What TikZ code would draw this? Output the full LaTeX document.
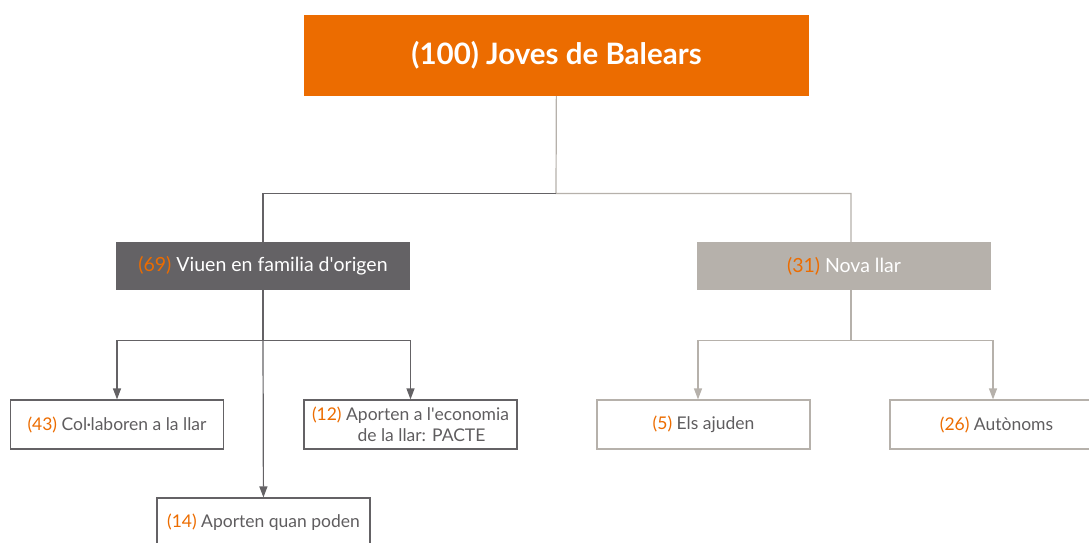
\documentclass[tikz,border=0pt]{standalone}
\usepackage{fontspec}
\setmainfont{Lato}
\usetikzlibrary{arrows.meta}

\definecolor{taronja}{HTML}{EC6C00}
\definecolor{fosc}{HTML}{646265}
\definecolor{clar}{HTML}{B6B1AB}
\definecolor{lletra}{HTML}{5F5D5F}
\newcommand{\nombre}[1]{\textcolor{taronja}{(#1)}}

\begin{document}
\begin{tikzpicture}[x=1pt, y=-1pt,
    >={Triangle[width=8pt,length=11pt]},
    caixa/.style={inner sep=0pt, minimum width=213pt, minimum height=49pt,
        font=\fontsize{17.5}{21.5}\selectfont, text=lletra, align=center},
    fulla/.style={caixa, draw=fosc, line width=1.2pt},
    fullaclara/.style={caixa, draw=clar, line width=1.2pt},
    branca/.style={caixa, minimum width=294pt, minimum height=48pt, text=white,
        font=\fontsize{19.5}{23}\selectfont},
    linia/.style={line width=1.2pt}]
    \useasboundingbox (0,0) rectangle (1089,542);

    \node[caixa, fill=taronja, text=white, minimum width=505pt, minimum height=81pt,
        font=\fontsize{29.5}{34}\selectfont\bfseries] at (556.5,55.5)(jov){(100) Joves de Balears};
    \node[branca, fill=fosc] at (263,266)(fam){\nombre{69} Viuen en familia d\textquotesingle origen};
    \node[branca, fill=clar] at (844,266)(nova){\nombre{31} Nova llar};
    \node[fulla] at (117,424.5)(col){\nombre{43} Col·laboren a la llar};
    \node[fulla] at (410.5,424.5)(eco){\nombre{12} Aporten a l\textquotesingle economia\\\hspace*{22pt}de la llar: PACTE};
    \node[fulla] at (263.5,522.5)(quan){\nombre{14} Aporten quan poden};
    \node[fullaclara] at (703.5,424.5)(ajud){\nombre{5} Els ajuden};
    \node[fullaclara] at (996.5,424.5)(auto){\nombre{26} Autònoms};

    \coordinate (bif) at (556,193.5);
    \coordinate (bfam) at (263,340.5);
    \coordinate (bnova) at (851,340.5);

    \draw[linia, clar] (jov) -- (bif) -| ([xshift=7pt]nova.north);
    \draw[linia, fosc] (bif) -| (fam);
    \draw[linia, fosc] (fam) -- (bfam);
    \draw[linia, fosc, ->] (bfam) -| (col);
    \draw[linia, fosc, ->] (bfam) -| (eco);
    \draw[linia, fosc, ->] (bfam) -- (quan);
    \draw[linia, clar] ([xshift=7pt]nova.south) -- (bnova);
    \draw[linia, clar, ->] (bnova) -| ([xshift=-5.5pt]ajud.north);
    \draw[linia, clar, ->] (bnova) -| ([xshift=-3.5pt]auto.north);
\end{tikzpicture}
\end{document}
